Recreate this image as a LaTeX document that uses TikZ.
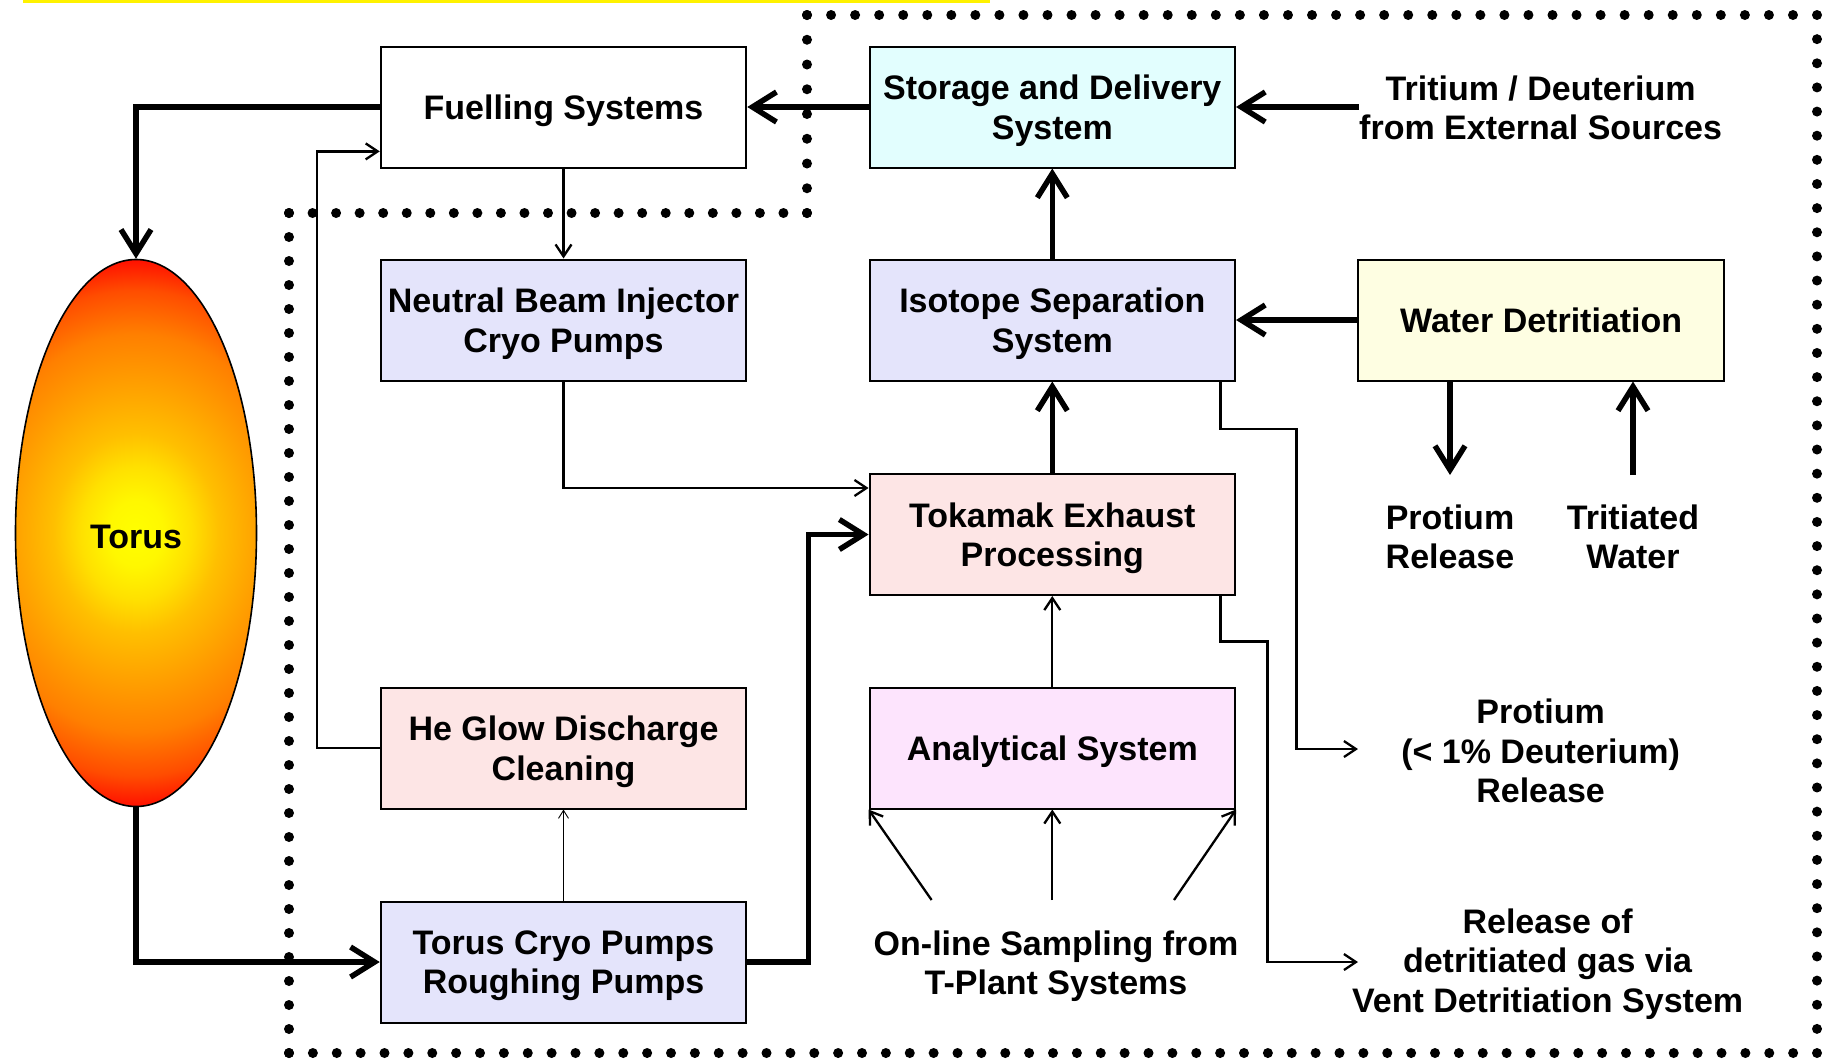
\documentclass[tikz,border=0pt]{standalone}
\usepackage{fontspec}
\setmainfont{Liberation Sans}
\usetikzlibrary{arrows.meta,shapes.geometric}

\definecolor{cyanbox}{HTML}{E2FEFE}
\definecolor{lavbox}{HTML}{E4E4FB}
\definecolor{yelbox}{HTML}{FEFEE2}
\definecolor{rosebox}{HTML}{FDE5E5}
\definecolor{pinkbox}{HTML}{FDE4FD}

\definecolor{glowA}{rgb}{1,1,0}
\definecolor{glowB}{rgb}{1,0.97,0}
\definecolor{glowC}{rgb}{1,0.88,0}
\definecolor{glowD}{rgb}{1,0.75,0}
\definecolor{glowE}{rgb}{1,0.61,0}
\definecolor{glowF}{rgb}{1,0.50,0}
\definecolor{glowG}{rgb}{1,0.30,0}
\definecolor{glowH}{rgb}{1,0.06,0}

% hot plasma glow: yellow core fading to red rim
% (the central 50bp square is what gets stretched over the shaded path)
\pgfdeclareradialshading{torusglow}{\pgfpoint{0bp}{0bp}}{%
  color(0bp)=(glowA); color(3bp)=(glowB); color(6bp)=(glowC);
  color(9bp)=(glowD); color(14bp)=(glowE); color(18bp)=(glowF);
  color(22bp)=(glowG); color(24.8bp)=(glowH); color(50bp)=(glowH)}

\tikzset{
  every node/.style={font=\fontsize{34}{39.5}\selectfont\bfseries},
  box/.style={draw, line width=2pt, minimum width=365.5pt, minimum height=121pt,
              inner sep=0pt, align=center, text depth=0pt},
  lbl/.style={inner sep=0pt, align=center},
  big/.style={line width=5.5pt, -{Straight Barb[length=24pt,width=30pt]}},
  slim/.style={line width=2.3pt, -{Straight Barb[length=12pt,width=16pt]}},
  hair/.style={line width=0.9pt, -{Straight Barb[length=8pt,width=10pt]}},
  dots/.style={line width=10pt, line cap=round},
}

\begin{document}
\begin{tikzpicture}[x=1pt,y=-1pt]
\useasboundingbox (0,0) rectangle (1826,1061);

% yellow rule along the top edge
\fill[yellow] (23,0) rectangle (990,3);

% dotted tritium plant boundary
\draw[dots, dash pattern=on 0pt off 24.75pt] (807,213) -- (807,15);
\draw[dots, dash pattern=on 0pt off 24.048pt] (807,15) -- (1817,15);
\draw[dots, dash pattern=on 0pt off 24.14pt] (1817,15) -- (1817,1053);
\draw[dots, dash pattern=on 0pt off 23.875pt] (1817,1053) -- (289,1053);
\draw[dots, dash pattern=on 0pt off 24pt] (289,1053) -- (289,213);
\draw[dots, dash pattern=on 0pt off 23.545pt] (289,213) -- (807,213);

% torus
\begin{scope}
  \clip (136,533) ellipse [x radius=120.5pt, y radius=273.5pt];
  \shade[shading=torusglow] (-94,257) rectangle (366,809);
\end{scope}
\node[ellipse, draw, line width=1.6pt, minimum width=241pt, minimum height=547pt,
      inner sep=0pt, label={[inner sep=0pt, yshift=-3.5pt]center:Torus}]
      (torus) at (136,533) {};

% process boxes
\node[box, fill=white]    (fuel)    at (563.5,107)  {Fuelling Systems};
\node[box, fill=cyanbox]  (storage) at (1052.3,107) {Storage and Delivery\\System};
\node[box, fill=lavbox]   (nbi)     at (563.5,320)  {Neutral Beam Injector\\Cryo Pumps};
\node[box, fill=lavbox]   (iso)     at (1052.3,320) {Isotope Separation\\System};
\node[box, fill=yelbox]   (water)   at (1541.2,320) {Water Detritiation};
\node[box, fill=rosebox]  (tok)     at (1052.3,534.5) {Tokamak Exhaust\\Processing};
\node[box, fill=rosebox]  (glow)    at (563.5,748)  {He Glow Discharge\\Cleaning};
\node[box, fill=pinkbox]  (ana)     at (1052.3,748) {Analytical System};
\node[box, fill=lavbox]   (cryo)    at (563.5,962)  {Torus Cryo Pumps\\Roughing Pumps};

% free-standing labels
\node[lbl] (ext)   at (1540.6,108) {Tritium / Deuterium\\from External Sources};
\node[lbl] (prel)  at (1450,537)   {Protium\\Release};
\node[lbl] (twat)  at (1633,537)   {Tritiated\\Water};
\node[lbl] (pdrel) at (1540.6,751) {Protium\\(< 1\% Deuterium)\\Release};
\node[lbl] (vdrel) at (1547.6,964) {Release of\\detritiated gas via\\Vent Detritiation System};
\node[lbl] (samp)  at (1056,966)   {On-line Sampling from\\T-Plant Systems};

% loose connector ends
\coordinate (prtip)  at (1450,475);
\coordinate (twtail) at (1633,475);
\coordinate (pdtip)  at (1358,749);
\coordinate (vdtip)  at (1358,962);
\coordinate (s1) at (931.6,900);
\coordinate (s2) at (1052.3,900);
\coordinate (s3) at (1174,900);

% main fuel cycle
\draw[big] (storage.west) -- (fuel.east);
\draw[big] (ext.west |- storage.east) -- (storage.east);
\draw[big] (iso.north) -- (storage.south);
\draw[big] (water.west) -- (iso.east);
\draw[big] (water.south -| prtip) -- (prtip);
\draw[big] (twtail) -- (twtail |- water.south);
\draw[big] (tok.north) -- (iso.south);
\draw[big] (fuel.west) -| (torus.north);
\draw[big] (torus.south) |- (cryo.west);
\draw[big] (cryo.east) -- ++(61,0) |- (tok.west);

% secondary flows
\draw[slim] (ana.north) -- (tok.south);
\draw[slim] (s1) -- (ana.south west);
\draw[slim] (s2) -- (ana.south);
\draw[slim] (s3) -- (ana.south east);
\draw[slim] (fuel.south) -- (nbi.north);
\draw[slim] (nbi.south) |- ([yshift=46.5pt]tok.west);
\draw[slim] (glow.west) -- ++(-62.5,0) |- ([yshift=-44.4pt]fuel.west);
\draw[hair] (cryo.north) -- (glow.south);
\draw[slim] ([xshift=-15.5pt]iso.south east) -- ++(0,47.5) -- ++(76,0) |- (pdtip);
\draw[slim] ([xshift=-15.5pt]tok.south east) -- ++(0,45.5) -- ++(47,0) |- (vdtip);
\end{tikzpicture}
\end{document}
